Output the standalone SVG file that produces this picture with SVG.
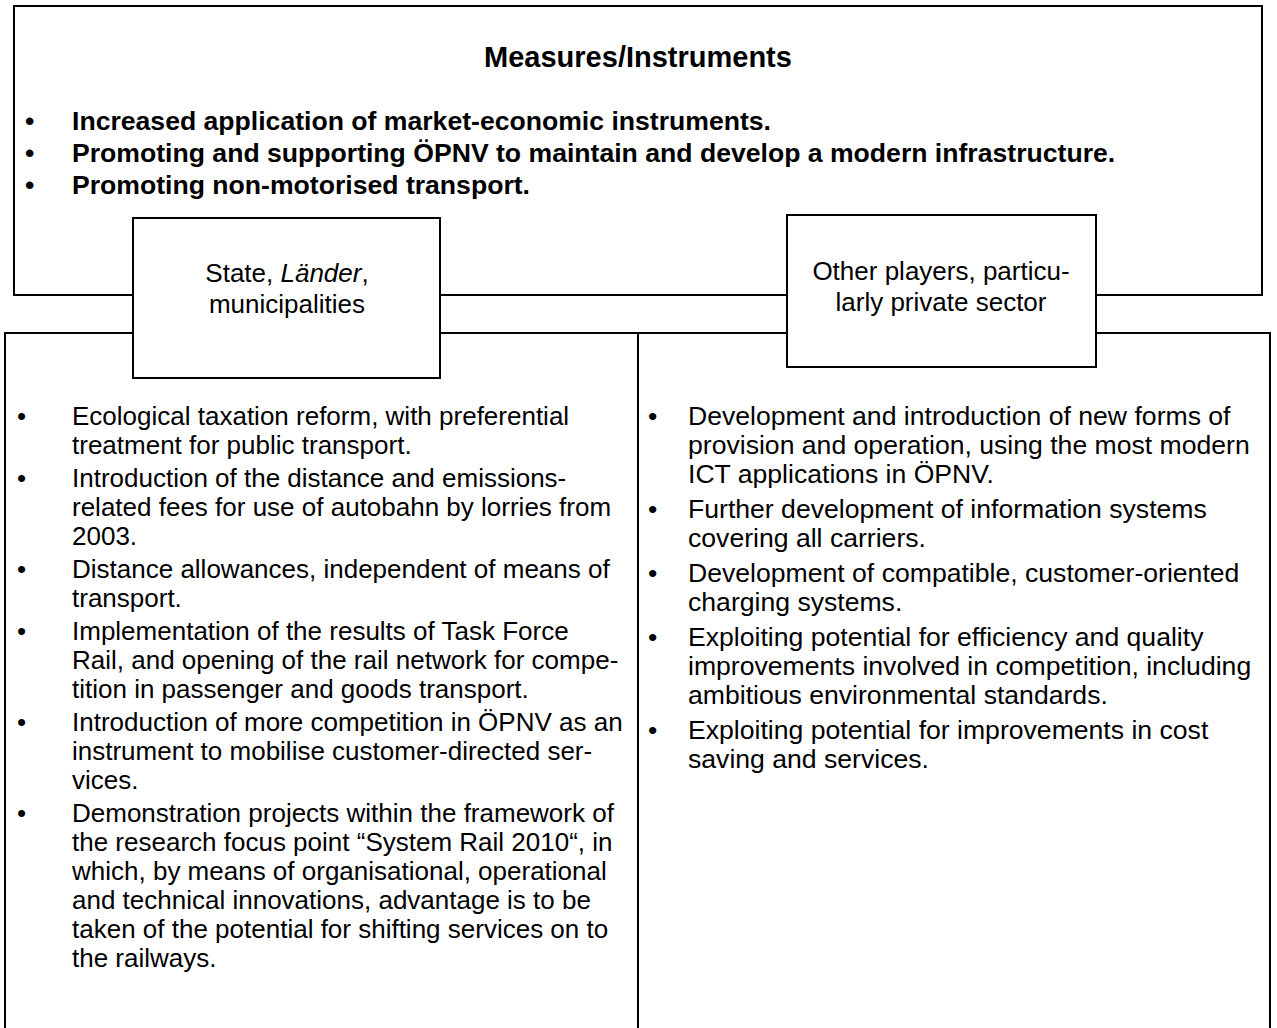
<svg xmlns="http://www.w3.org/2000/svg" width="1277" height="1028" viewBox="0 0 1277 1028">
<style>
.box{fill:#fff;stroke:#000;stroke-width:2}
.frame{fill:none;stroke:#000;stroke-width:2}
text{font-family:"Liberation Sans",Arial,sans-serif;font-size:26px;fill:#000}
.b{font-weight:bold;font-size:26.6px}
.title{font-size:29px;font-weight:bold}
.c{text-anchor:middle}
.r{font-size:26.6px}
</style>
<rect width="1277" height="1028" fill="#fff"/>
<g id="top-box">
<rect class="frame" x="14" y="6" width="1248" height="289"/>
<text class="title c" x="638" y="67">Measures/Instruments</text>
<text class="b" x="25" y="130">•</text><text class="b" x="72" y="130">Increased application of market-economic instruments.</text>
<text class="b" x="25" y="162">•</text><text class="b" x="72" y="162">Promoting and supporting ÖPNV to maintain and develop a modern infrastructure.</text>
<text class="b" x="25" y="194">•</text><text class="b" x="72" y="194">Promoting non-motorised transport.</text>
</g>
<g id="bottom-box">
<rect class="frame" x="5" y="333" width="1265" height="720"/>
<line class="frame" x1="638" y1="333" x2="638" y2="1040"/>
</g>
<g id="left-list">
<text x="17" y="425">•</text><text x="72" y="425">Ecological taxation reform, with preferential</text>
<text x="72" y="454">treatment for public transport.</text>
<text x="17" y="487">•</text><text x="72" y="487">Introduction of the distance and emissions-</text>
<text x="72" y="516">related fees for use of autobahn by lorries from</text>
<text x="72" y="545">2003.</text>
<text x="17" y="578">•</text><text x="72" y="578">Distance allowances, independent of means of</text>
<text x="72" y="607">transport.</text>
<text x="17" y="640">•</text><text x="72" y="640">Implementation of the results of Task Force</text>
<text x="72" y="669">Rail, and opening of the rail network for compe-</text>
<text x="72" y="698">tition in passenger and goods transport.</text>
<text x="17" y="731">•</text><text x="72" y="731">Introduction of more competition in ÖPNV as an</text>
<text x="72" y="760">instrument to mobilise customer-directed ser-</text>
<text x="72" y="789">vices.</text>
<text x="17" y="822">•</text><text x="72" y="822">Demonstration projects within the framework of</text>
<text x="72" y="851">the research focus point “System Rail 2010“, in</text>
<text x="72" y="880">which, by means of organisational, operational</text>
<text x="72" y="909">and technical innovations, advantage is to be</text>
<text x="72" y="938">taken of the potential for shifting services on to</text>
<text x="72" y="967">the railways.</text>
</g>
<g id="right-list">
<text class="r" x="648" y="425">•</text><text class="r" x="688" y="425">Development and introduction of new forms of</text>
<text class="r" x="688" y="454">provision and operation, using the most modern</text>
<text class="r" x="688" y="483">ICT applications in ÖPNV.</text>
<text class="r" x="648" y="518">•</text><text class="r" x="688" y="518">Further development of information systems</text>
<text class="r" x="688" y="547">covering all carriers.</text>
<text class="r" x="648" y="582">•</text><text class="r" x="688" y="582">Development of compatible, customer-oriented</text>
<text class="r" x="688" y="611">charging systems.</text>
<text class="r" x="648" y="646">•</text><text class="r" x="688" y="646">Exploiting potential for efficiency and quality</text>
<text class="r" x="688" y="675">improvements involved in competition, including</text>
<text class="r" x="688" y="704">ambitious environmental standards.</text>
<text class="r" x="648" y="739">•</text><text class="r" x="688" y="739">Exploiting potential for improvements in cost</text>
<text class="r" x="688" y="768">saving and services.</text>
</g>
<g id="node-state">
<rect class="box" x="133" y="218" width="307" height="160"/>
<text class="c" x="287" y="282">State, <tspan font-style="italic">Länder</tspan>,</text>
<text class="c" x="287" y="313">municipalities</text>
</g>
<g id="node-other">
<rect class="box" x="787" y="215" width="309" height="152"/>
<text class="c" x="941" y="280">Other players, particu-</text>
<text class="c" x="941" y="311">larly private sector</text>
</g>
</svg>
